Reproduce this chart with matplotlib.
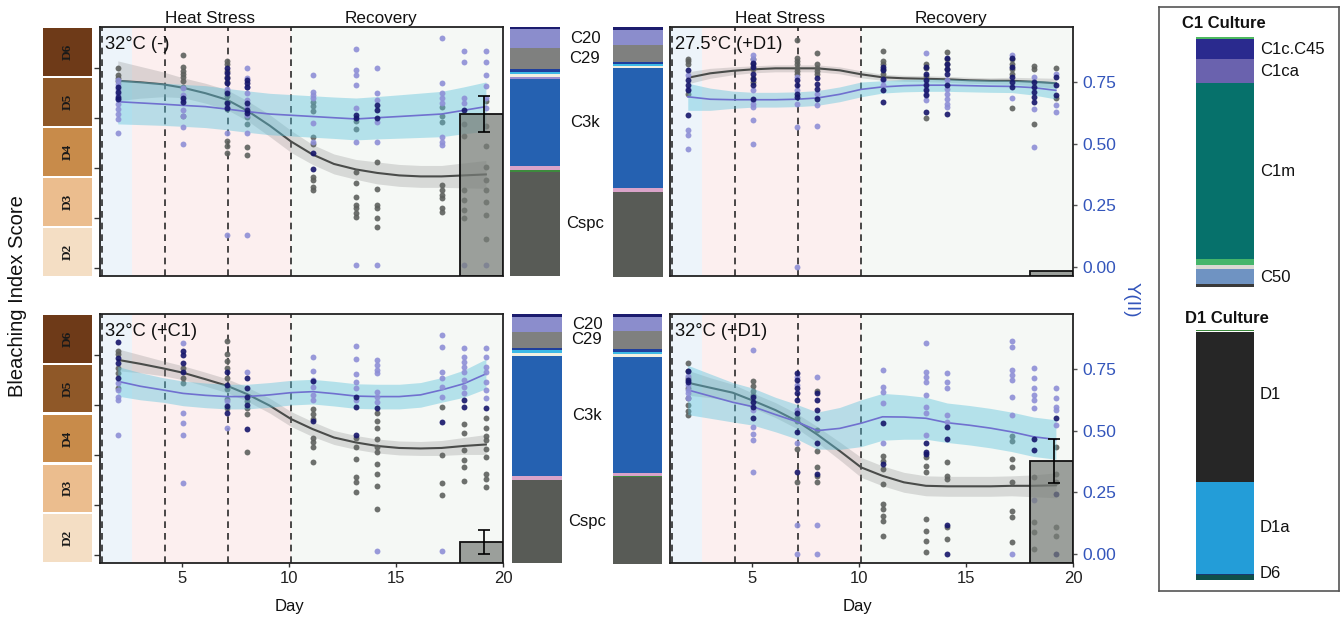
import matplotlib
matplotlib.use("Agg")
import matplotlib.pyplot as plt
import matplotlib.transforms as mtransforms

plt.rcParams['font.family'] = ['Liberation Sans', 'DejaVu Sans']

W, H = 1344, 621

# ------------------------------------------------------------------ data
# x position (day) of each sampling day
SAMPLE_X = {2: 2.0, 5: 5.05, 7: 7.1, 8: 8.05, 11: 11.1, 13: 13.13,
            14: 14.12, 17: 17.13, 18: 18.16, 19: 19.2}
CURVE_X = [2.0, 3.05, 4.1, 5.05, 6.1, 7.1, 8.05, 9.1, 10.1, 11.1, 12.1,
           13.13, 14.12, 15.15, 16.15, 17.13, 18.16, 19.2]

# --- 32°C (-)
TL_GRAY = {2: [6.0, 5.87, 5.8, 5.75], 5: [6.27, 6.02, 5.95, 5.89, 5.82, 5.75, 5.62, 5.05],
           7: [6.15, 6.09, 5.95, 5.82, 5.72, 5.55, 5.45, 5.32, 5.19, 4.55, 4.45, 4.29],
           8: [5.02, 4.89, 4.42, 4.25], 11: [5.32, 5.25, 5.15, 4.62, 4.49, 3.82, 3.75, 3.62, 3.55],
           13: [4.95, 4.79, 3.92, 3.69, 3.41, 3.25, 3.19, 3.09, 3.01],
           14: [4.12, 3.57, 3.25, 3.19, 2.99, 2.82],
           17: [5.22, 5.05, 4.92, 3.65, 3.55, 3.45, 3.39, 3.19, 3.12],
           18: [4.89, 4.65, 3.55, 3.35, 3.15, 2.99],
           19: [5.35, 4.85, 4.45, 4.02, 3.75, 3.55, 3.31, 3.05, 2.57]}
TL_PURPLE = {2: [0.76, 0.74, 0.72, 0.70, 0.68, 0.66, 0.64, 0.62, 0.60, 0.545],
             5: [0.724, 0.697, 0.677, 0.636, 0.612, 0.569, 0.50], 7: [0.72, 0.65, 0.542, 0.13],
             8: [0.805, 0.765, 0.731, 0.704, 0.677, 0.65, 0.616, 0.542, 0.13],
             11: [0.78, 0.71, 0.697, 0.684, 0.582, 0.508],
             13: [0.882, 0.80, 0.778, 0.738, 0.643, 0.508, 0.008],
             14: [0.808, 0.704, 0.677, 0.589, 0.508, 0.008],
             17: [0.927, 0.745, 0.704, 0.684, 0.664, 0.528, 0.508, 0.495],
             18: [0.876, 0.832, 0.684, 0.664, 0.008],
             19: [0.876, 0.832, 0.78, 0.734, 0.684, 0.643, 0.008]}
TL_NAVY = {2: [0.73, 0.71, 0.69, 0.68], 5: [0.684, 0.67],
           7: [0.805, 0.785, 0.765, 0.745, 0.704, 0.664, 0.643],
           8: [0.758, 0.745, 0.731, 0.664, 0.636, 0.623], 11: [0.46, 0.396],
           13: [0.616, 0.603], 14: [0.657, 0.636, 0.603], 18: [0.636]}
TL_SCORE_FIT = [5.75, 5.72, 5.68, 5.61, 5.5, 5.37, 5.15, 4.85, 4.53, 4.27, 4.08, 3.97,
                3.9, 3.85, 3.83, 3.83, 3.85, 3.87]
TL_SCORE_CI = [0.4, 0.32, 0.25, 0.2, 0.2, 0.2, 0.2, 0.22, 0.22, 0.2, 0.2, 0.2, 0.22,
               0.22, 0.22, 0.22, 0.25, 0.28]
TL_Y_FIT = [0.67, 0.665, 0.66, 0.655, 0.65, 0.64, 0.63, 0.62, 0.615, 0.61, 0.605, 0.60,
            0.605, 0.61, 0.615, 0.62, 0.635, 0.65]
TL_Y_CI = [0.09, 0.088, 0.086, 0.085, 0.085, 0.084, 0.084, 0.084, 0.084, 0.084, 0.084,
           0.085, 0.086, 0.088, 0.09, 0.092, 0.095, 0.1]

# --- 27.5°C (+D1)
TR_GRAY = {2: [6.19, 6.15, 6.08, 5.48], 5: [6.19, 6.08, 5.98, 5.81, 5.73],
           7: [6.57, 6.21, 6.15, 6.08, 6.01, 5.95, 5.88], 8: [6.31, 6.08, 6.01, 5.95, 5.88],
           11: [6.35, 6.15, 6.08, 5.98, 5.88], 13: [6.08, 6.01, 5.85, 5.01],
           14: [6.33, 6.18, 6.08, 5.98], 17: [6.18, 6.08, 5.98, 5.88, 5.21],
           18: [6.05, 5.98, 4.88], 19: [6.01, 5.41]}
TR_PURPLE = {2: [0.777, 0.723, 0.554, 0.534, 0.48],
             5: [0.858, 0.845, 0.716, 0.676, 0.662, 0.649, 0.595, 0.50],
             7: [0.77, 0.716, 0.662, 0.568, 0.0], 8: [0.703, 0.655, 0.571],
             11: [0.757, 0.736], 13: [0.869, 0.743, 0.723, 0.703, 0.676],
             14: [0.757, 0.723, 0.703, 0.682, 0.662, 0.649], 17: [0.858, 0.684],
             18: [0.77, 0.642, 0.486], 19: [0.784, 0.655, 0.628]}
TR_NAVY = {2: [0.80, 0.757, 0.736, 0.716, 0.615], 5: [0.828, 0.811, 0.784, 0.764, 0.736, 0.682],
           7: [0.757, 0.736, 0.703, 0.689], 8: [0.765, 0.743, 0.723, 0.682],
           11: [0.811, 0.797, 0.764, 0.716, 0.669],
           13: [0.811, 0.784, 0.757, 0.736, 0.716, 0.697, 0.628],
           14: [0.846, 0.824, 0.804, 0.784, 0.736, 0.622],
           17: [0.846, 0.811, 0.77, 0.75, 0.73], 18: [0.75, 0.73, 0.709, 0.689, 0.669],
           19: [0.77, 0.736, 0.696]}
TR_SCORE_FIT = [5.81, 5.9, 5.95, 5.98, 6.0, 6.0, 6.0, 5.96, 5.88, 5.82, 5.8, 5.79, 5.78,
                5.76, 5.75, 5.75, 5.73, 5.7]
TR_SCORE_CI = [0.12, 0.1, 0.08, 0.07, 0.07, 0.07, 0.07, 0.07, 0.07, 0.06, 0.06, 0.06,
               0.06, 0.06, 0.06, 0.07, 0.08, 0.1]
TR_Y_FIT = [0.69, 0.68, 0.678, 0.678, 0.678, 0.68, 0.685, 0.70, 0.72, 0.73, 0.735, 0.737,
            0.737, 0.735, 0.733, 0.732, 0.727, 0.716]
TR_Y_CI = [0.055, 0.045, 0.035, 0.03, 0.03, 0.03, 0.03, 0.03, 0.03, 0.025, 0.025, 0.025,
           0.025, 0.025, 0.025, 0.025, 0.03, 0.035]

# --- 32°C (+C1)
BL_GRAY = {2: [6.09, 6.02, 5.75, 5.65, 5.34], 5: [5.75, 5.55, 5.45],
           7: [6.29, 6.02, 5.89, 5.75, 5.55, 5.32, 5.12, 4.95], 8: [5.09, 4.95, 4.82, 4.05],
           11: [4.92, 4.82, 4.72, 4.35, 4.25, 4.15, 3.85],
           13: [4.35, 4.15, 3.92, 3.55, 3.45, 3.25],
           14: [4.85, 4.69, 4.55, 4.32, 4.15, 4.05, 3.82, 3.62, 3.37, 2.92],
           17: [4.97, 3.99, 3.43, 3.19], 18: [4.62, 4.45, 4.09, 3.89, 3.75, 3.47],
           19: [4.75, 4.55, 4.39, 4.29, 4.12, 3.95, 3.62, 3.52, 3.35]}
BL_PURPLE = {2: [0.692, 0.665, 0.638, 0.624, 0.482], 5: [0.855, 0.57, 0.529, 0.484, 0.289],
             7: [0.62, 0.509], 8: [0.739], 11: [0.798, 0.742, 0.706, 0.678, 0.645, 0.624],
             13: [0.844, 0.791, 0.73, 0.699, 0.672, 0.624],
             14: [0.787, 0.767, 0.746, 0.733, 0.658, 0.638, 0.617, 0.011],
             17: [0.887, 0.839, 0.739, 0.712, 0.678, 0.638, 0.011],
             18: [0.834, 0.80, 0.78, 0.76, 0.739, 0.706, 0.678, 0.651],
             19: [0.834, 0.798, 0.76, 0.739, 0.699, 0.665, 0.631]}
BL_NAVY = {2: [0.858, 0.794, 0.773, 0.712], 5: [0.821, 0.807, 0.773, 0.739],
           7: [0.739, 0.685, 0.60, 0.57], 8: [0.712, 0.672, 0.638, 0.604, 0.505],
           11: [0.703, 0.54], 13: [0.638, 0.597, 0.482], 14: [0.59], 17: [0.536],
           18: [0.624, 0.597], 19: [0.59]}
BL_SCORE_FIT = [5.91, 5.83, 5.74, 5.65, 5.52, 5.39, 5.22, 4.99, 4.72, 4.52, 4.35, 4.25,
                4.18, 4.14, 4.13, 4.14, 4.18, 4.21]
BL_SCORE_CI = [0.22, 0.18, 0.15, 0.14, 0.14, 0.14, 0.14, 0.15, 0.15, 0.15, 0.14, 0.14,
               0.14, 0.14, 0.14, 0.15, 0.17, 0.2]
BL_Y_FIT = [0.70, 0.68, 0.665, 0.651, 0.643, 0.638, 0.638, 0.645, 0.654, 0.658, 0.65, 0.64,
            0.638, 0.638, 0.645, 0.665, 0.69, 0.73]
BL_Y_CI = [0.06, 0.055, 0.05, 0.05, 0.05, 0.05, 0.05, 0.05, 0.05, 0.05, 0.05, 0.05, 0.05,
           0.05, 0.05, 0.05, 0.055, 0.06]

# --- 32°C (+D1)
BR_GRAY = {2: [5.85, 5.68, 5.55, 5.35, 5.15, 5.01, 4.88, 4.81], 5: [5.48, 5.38, 5.28, 5.21],
           7: [4.75, 4.68, 4.11, 3.45], 8: [5.28, 4.51, 4.08, 3.75, 3.58, 3.45],
           11: [3.98, 3.88, 3.71, 3.41, 3.01, 2.91, 2.78, 2.68, 2.38],
           13: [3.95, 3.78, 3.65, 2.71, 2.48, 2.28, 2.05], 14: [3.85, 3.58, 3.51, 2.55, 2.31],
           17: [4.38, 4.28, 3.91, 3.75, 3.45, 2.88, 2.75, 2.25], 18: [3.55, 2.65, 2.45, 2.11],
           19: [4.15, 3.61, 3.45, 2.55, 2.38]}
BR_PURPLE = {2: [0.72, 0.685, 0.665, 0.651, 0.631],
             5: [0.828, 0.583, 0.516, 0.488, 0.461, 0.332],
             7: [0.719, 0.685, 0.583, 0.448, 0.119, 0.0], 8: [0.719, 0.119, 0.0],
             11: [0.746, 0.678, 0.658, 0.611, 0.448],
             13: [0.855, 0.739, 0.719, 0.699, 0.645, 0.597, 0.57, 0.482],
             14: [0.733, 0.699, 0.672, 0.563, 0.536],
             17: [0.862, 0.841, 0.746, 0.726, 0.706, 0.638, 0.563, 0.0],
             18: [0.753, 0.712, 0.672, 0.645, 0.624, 0.59, 0.217],
             19: [0.672, 0.631, 0.597, 0.583, 0.522]}
BR_NAVY = {2: [0.74, 0.706, 0.699], 5: [0.638, 0.617, 0.597, 0.55],
           7: [0.733, 0.706, 0.672, 0.651, 0.624, 0.57, 0.495, 0.332],
           8: [0.651, 0.624, 0.583, 0.55, 0.448, 0.326], 11: [0.529, 0.366],
           13: [0.448, 0.414, 0.407], 14: [0.516, 0.468, 0.119, 0.0], 18: [0.468, 0.421],
           19: [0.55, 0.244, 0.0]}
BR_SCORE_FIT = [5.45, 5.35, 5.25, 5.09, 4.9, 4.68, 4.41, 4.08, 3.75, 3.58, 3.45, 3.38,
                3.37, 3.37, 3.37, 3.38, 3.38, 3.39]
BR_SCORE_CI = [0.25, 0.2, 0.17, 0.15, 0.15, 0.15, 0.16, 0.18, 0.2, 0.2, 0.2, 0.2, 0.2,
               0.2, 0.2, 0.2, 0.22, 0.25]
BR_Y_FIT = [0.665, 0.64, 0.615, 0.597, 0.565, 0.536, 0.50, 0.509, 0.53, 0.556, 0.555, 0.55,
            0.532, 0.522, 0.51, 0.495, 0.475, 0.464]
BR_Y_CI = [0.1, 0.09, 0.08, 0.075, 0.07, 0.07, 0.075, 0.085, 0.095, 0.095, 0.09, 0.085,
           0.08, 0.08, 0.08, 0.08, 0.08, 0.08]

PANEL_TITLES = ['32°C (-)', '27.5°C (+D1)', '32°C (+C1)', '32°C (+D1)']
BAR_FRAC = [0.65, 0.02, 0.085, 0.41]
BAR_ERR = [0.073, 0.0, 0.048, 0.09]

PHASE_DASH_X = [1.27, 4.22, 7.15, 10.08]
ACCLIM_END = 2.67
RECOVERY_START = 10.08
X_TICKS = [5, 10, 15, 20]
SCORE_TICKS = [2, 3, 4, 5, 6]
Y_TICKS = [0.0, 0.25, 0.5, 0.75]
Y_TICKLABELS = ['0.00', '0.25', '0.50', '0.75']

STRIP_LABELS = ['D2', 'D3', 'D4', 'D5', 'D6']
STRIP_COLORS = ['#f4dec4', '#ebbd8e', '#c88b4a', '#8f5828', '#6e3a18']

# community stacked bars (bottom -> top)
SEG_COLORS = ['#585b56', '#3d8a3d', '#d9a3c9', '#2561b1', '#9b8fd0', '#f2f0e2',
              '#3db9e6', '#1f3f9c', '#7f807f', '#8b8dcc', '#1c1c6e']
TL_COMM1 = [41.5, 0.8, 1.6, 34.5, 0.8, 1.2, 0.8, 1.2, 8.5, 7.6, 0.8]
TL_COMM2 = [34.0, 0.2, 1.6, 48.0, 0.0, 0.8, 0.8, 0.8, 6.8, 6.0, 1.2]
BL_COMM1 = [33.3, 0.2, 1.6, 48.2, 0.0, 1.2, 1.2, 0.8, 6.4, 6.0, 1.2]
BL_COMM2 = [35.0, 0.4, 1.4, 46.6, 0.0, 1.2, 0.8, 1.2, 7.2, 5.6, 1.2]
COMM_LABELS = {'Cspc': 0, 'C3k': 3, 'C29': 8, 'C20': 9}

# culture legend bars (bottom -> top)
C1_NAMES = ['', 'C50', '', '', 'C1m', 'C1ca', 'C1c.C45', '']
C1_VALUES = [3, 15, 4, 6, 176, 24, 20, 2]
C1_COLORS = ['#3a3a3a', '#6f93c2', '#d9d9d2', '#45b56a', '#06716b', '#6a62ae', '#2a2a8e', '#4db860']
D1_NAMES = ['D6', '', 'D1a', 'D1', '']
D1_VALUES = [5, 1.5, 92, 150, 1.5]
D1_COLORS = ['#10504a', '#1a3a70', '#239dd8', '#262626', '#3d8a3d']

# ------------------------------------------------------------------ style
X_LIM = (1.17, 20.0)
SCORE_LIM = (1.83, 6.83)
Y_LIM = (-0.037, 0.973)
C_GRAY_PT = '#5e615e'
C_PURPLE_PT = '#8e8fd6'
C_NAVY_PT = '#16166b'
C_GRAY_LINE = '#4a4c4a'
C_BLUE_LINE = '#7070cf'
C_CYAN = '#5cc3dc'
C_BAND_GRAY = '#8a8a8a'
BG_BLUE = '#edf4fa'
BG_PINK = '#fcefef'
BG_REC = '#f5f8f5'
BLUE_TXT = '#3355bb'

fig = plt.figure(figsize=(W / 100, H / 100), dpi=100)
fig.patch.set_facecolor('white')


def rect(x0, y0, x1, y1):
    return [x0 / W, 1 - y1 / H, (x1 - x0) / W, (y1 - y0) / H]


def flat(d):
    xs, ys = [], []
    for k, vals in d.items():
        for v in vals:
            xs.append(SAMPLE_X[k])
            ys.append(v)
    return xs, ys


panels = [
    dict(box=(100, 27, 503, 276), gray=TL_GRAY, purple=TL_PURPLE, navy=TL_NAVY,
         sfit=TL_SCORE_FIT, sci=TL_SCORE_CI, yfit=TL_Y_FIT, yci=TL_Y_CI, left=True, bottom=False),
    dict(box=(670, 27, 1073, 276), gray=TR_GRAY, purple=TR_PURPLE, navy=TR_NAVY,
         sfit=TR_SCORE_FIT, sci=TR_SCORE_CI, yfit=TR_Y_FIT, yci=TR_Y_CI, left=False, bottom=False),
    dict(box=(100, 314, 503, 563), gray=BL_GRAY, purple=BL_PURPLE, navy=BL_NAVY,
         sfit=BL_SCORE_FIT, sci=BL_SCORE_CI, yfit=BL_Y_FIT, yci=BL_Y_CI, left=True, bottom=True),
    dict(box=(670, 314, 1073, 563), gray=BR_GRAY, purple=BR_PURPLE, navy=BR_NAVY,
         sfit=BR_SCORE_FIT, sci=BR_SCORE_CI, yfit=BR_Y_FIT, yci=BR_Y_CI, left=False, bottom=True),
]

for i, p in enumerate(panels):
    ax = fig.add_axes(rect(*p['box']))
    ax.set_xlim(*X_LIM)
    ax.set_ylim(*SCORE_LIM)
    ax.axvspan(X_LIM[0], ACCLIM_END, color=BG_BLUE, lw=0, zorder=0)
    ax.axvspan(ACCLIM_END, RECOVERY_START, color=BG_PINK, lw=0, zorder=0)
    ax.axvspan(RECOVERY_START, X_LIM[1], color=BG_REC, lw=0, zorder=0)
    for xv in PHASE_DASH_X:
        ax.axvline(xv, color='#2a2a2a', lw=1.2, ls=(0, (4, 3)), zorder=1)
    lo = [f - c for f, c in zip(p['sfit'], p['sci'])]
    hi = [f + c for f, c in zip(p['sfit'], p['sci'])]
    ax.fill_between(CURVE_X, lo, hi, color=C_BAND_GRAY, alpha=0.28, lw=0, zorder=2)
    ax.plot(CURVE_X, p['sfit'], color=C_GRAY_LINE, lw=1.5, zorder=3)
    gx, gy = flat(p['gray'])
    ax.scatter(gx, gy, s=18, color=C_GRAY_PT, alpha=0.9, lw=0, zorder=4)
    for sp in ax.spines.values():
        sp.set_visible(False)
    if p['left']:
        ax.set_yticks(SCORE_TICKS)
        ax.set_yticklabels([])
        ax.tick_params(axis='y', length=4, width=1, color='#333')
    else:
        ax.set_yticks([])
    if p['bottom']:
        ax.set_xticks(X_TICKS)
        ax.set_xticklabels([str(t) for t in X_TICKS], fontsize=12, color='#222')
        ax.tick_params(axis='x', length=3, width=1, color='#333', pad=3)
    else:
        ax.set_xticks([])

    ax2 = ax.twinx()
    ax2.set_ylim(*Y_LIM)
    ylo = [f - c for f, c in zip(p['yfit'], p['yci'])]
    yhi = [f + c for f, c in zip(p['yfit'], p['yci'])]
    ax2.fill_between(CURVE_X, ylo, yhi, color=C_CYAN, alpha=0.42, lw=0, zorder=2)
    ax2.plot(CURVE_X, p['yfit'], color=C_BLUE_LINE, lw=1.2, zorder=3)
    px_, py_ = flat(p['purple'])
    ax2.scatter(px_, py_, s=18, color=C_PURPLE_PT, alpha=0.9, lw=0, zorder=4)
    nx, ny = flat(p['navy'])
    ax2.scatter(nx, ny, s=18, color=C_NAVY_PT, alpha=0.9, lw=0, zorder=5)
    for sp in ax2.spines.values():
        sp.set_visible(False)
    if p['left']:
        ax2.set_yticks([])
    else:
        ax2.set_yticks(Y_TICKS)
        ax2.set_yticklabels(Y_TICKLABELS, fontsize=12.5, color=BLUE_TXT)
        ax2.tick_params(axis='y', length=3, width=1, color='#555', pad=4)

    ax3 = ax.twinx()
    ax3.set_ylim(0, 1)
    ax3.set_yticks([])
    for sp in ax3.spines.values():
        sp.set_color('#222')
        sp.set_linewidth(1.3)
    ax3.bar(18.0, BAR_FRAC[i], width=X_LIM[1] - 18.0, align='edge',
            facecolor=(0.47, 0.49, 0.47, 0.72), edgecolor='#111', lw=1.3, zorder=3)
    if BAR_ERR[i] > 0:
        ax3.errorbar(19.1, BAR_FRAC[i], yerr=BAR_ERR[i], color='black', capsize=4,
                     lw=1.2, capthick=1.2, zorder=4)
    ax3.text(0.012, 0.965, PANEL_TITLES[i], transform=ax3.transAxes, va='top', ha='left',
             fontsize=13.2, color='#111', zorder=6)
    if not p['bottom']:
        tr = mtransforms.blended_transform_factory(ax3.transData, ax3.transAxes)
        ax3.text(6.3, 1.006, 'Heat Stress', transform=tr, ha='center', va='bottom',
                 fontsize=12.3, color='#111')
        ax3.text(14.3, 1.006, 'Recovery', transform=tr, ha='center', va='bottom',
                 fontsize=12.3, color='#111')

# ------------------------------------------------------------------ colour strips
for (y0, y1) in [(27, 277), (314, 563)]:
    sax = fig.add_axes(rect(43, y0, 92, y1))
    sax.barh(range(len(STRIP_LABELS)), [1] * len(STRIP_LABELS), height=0.95,
             color=STRIP_COLORS, left=0)
    sax.set_xlim(0, 1)
    sax.set_ylim(-0.5, len(STRIP_LABELS) - 0.5)
    sax.axis('off')
    for k, lab in enumerate(STRIP_LABELS):
        sax.text(0.5, k, lab, rotation=90, ha='center', va='center', fontsize=9.5,
                 fontweight='bold', family=['Liberation Serif', 'DejaVu Serif'], color='#1a1a1a')

# ------------------------------------------------------------------ community bars
comm_boxes = [((510, 27, 560, 276), TL_COMM1, True), ((613, 27, 663, 277), TL_COMM2, False),
              ((512, 314, 562, 563), BL_COMM1, True), ((613, 314, 662, 564), BL_COMM2, False)]
for bx, vals, labelled in comm_boxes:
    cax = fig.add_axes(rect(*bx))
    bottom = 0
    mids = []
    for v, c in zip(vals, SEG_COLORS):
        cax.bar(0, v, bottom=bottom, width=1, color=c, lw=0)
        mids.append(bottom + v / 2)
        bottom += v
    cax.set_xlim(-0.5, 0.5)
    cax.set_ylim(0, bottom)
    cax.axis('off')
    if labelled:
        cax.set_zorder(5)
        trc = mtransforms.blended_transform_factory(cax.transAxes, cax.transData)
        for name, idx in COMM_LABELS.items():
            cax.text(1.5, mids[idx], name, transform=trc, ha='center', va='center',
                     fontsize=12, color='#111', clip_on=False)

# ------------------------------------------------------------------ culture legend
lax = fig.add_axes(rect(1159, 7, 1339, 591))
lax.set_xticks([])
lax.set_yticks([])
for sp in lax.spines.values():
    sp.set_color('#555')
    sp.set_linewidth(1.2)
fig.text(1224 / W, 1 - 24 / H, 'C1 Culture', ha='center', va='center', fontsize=12,
         fontweight='bold', color='#111')
fig.text(1227 / W, 1 - 318 / H, 'D1 Culture', ha='center', va='center', fontsize=12,
         fontweight='bold', color='#111')


def culture_bar(bx, names, values, colors, label_nudge):
    cax = fig.add_axes(rect(*bx))
    bottom = 0
    trc = mtransforms.blended_transform_factory(cax.transAxes, cax.transData)
    for n, v, c, dn in zip(names, values, colors, label_nudge):
        cax.bar(0, v, bottom=bottom, width=1, color=c, lw=0)
        if n:
            cax.text(1.1, bottom + v / 2 + dn, n, transform=trc, ha='left', va='center',
                     fontsize=12, color='#111', clip_on=False)
        bottom += v
    cax.set_xlim(-0.5, 0.5)
    cax.set_ylim(0, bottom)
    cax.axis('off')


culture_bar((1196, 37, 1254, 287), C1_NAMES, C1_VALUES, C1_COLORS, [0, -1, 0, 0, 0, 0, 0, 0])
culture_bar((1196, 330, 1254, 580), D1_NAMES, D1_VALUES, D1_COLORS, [4, 0, 0, 12, 0])

# ------------------------------------------------------------------ global labels
fig.text(18 / W, 1 - 296 / H, 'Bleaching Index Score', rotation=90, ha='center',
         va='center', fontsize=14.5, color='#111')
fig.text(1131 / W, 1 - 300 / H, 'Y(II)', rotation=270, ha='center', va='center',
         fontsize=13.5, color=BLUE_TXT)
fig.text(290 / W, 1 - 607 / H, 'Day', ha='center', va='center', fontsize=12, color='#111')
fig.text(858 / W, 1 - 607 / H, 'Day', ha='center', va='center', fontsize=12, color='#111')

fig.savefig('out.png', dpi=100, facecolor='white')
